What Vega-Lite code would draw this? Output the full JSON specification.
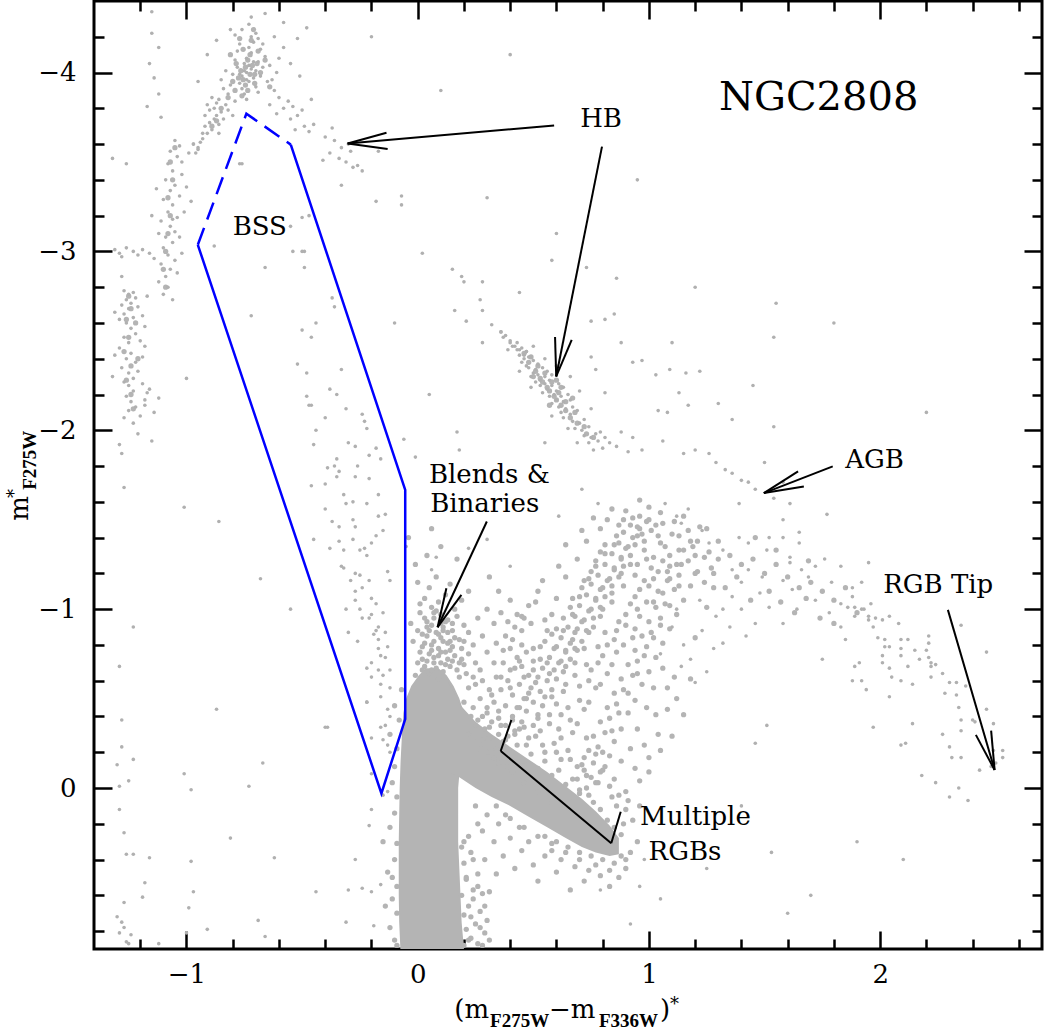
{
"$schema":"https://vega.github.io/schema/vega-lite/v6.json",
"width":948,"height":948,
"autosize":{"type":"none"},
"padding":{"left":94,"top":1,"right":2,"bottom":85},
"background":"white",
"config":{"view":{"stroke":"black","strokeWidth":3},"axis":{"grid":false,"domain":false,"title":null,"tickColor":"black","tickWidth":2.5,"labelColor":"black","labelFont":"DejaVu Serif","labelFontSize":26,"labelFlush":false,"labelOverlap":false}},
"resolve":{"axis":{"x":"independent","y":"independent"}},
"datasets":{
"ms":[{"y":0.9,"xa":-0.075,"xb":0.2},{"y":0.75,"xa":-0.08,"xb":0.19},{"y":0.6,"xa":-0.082,"xb":0.185},{"y":0.45,"xa":-0.082,"xb":0.18},{"y":0.3,"xa":-0.082,"xb":0.175},{"y":0.15,"xa":-0.08,"xb":0.175},{"y":0.0,"xa":-0.078,"xb":0.175},{"y":-0.15,"xa":-0.074,"xb":0.185},{"y":-0.3,"xa":-0.068,"xb":0.2},{"y":-0.42,"xa":-0.062,"xb":0.2},{"y":-0.5,"xa":-0.05,"xb":0.18},{"y":-0.57,"xa":-0.028,"xb":0.155},{"y":-0.63,"xa":0.005,"xb":0.125},{"y":-0.67,"xa":0.035,"xb":0.09}],
"sgb":[{"x":0.12,"ya":-0.62,"yb":-0.1},{"x":0.18,"ya":-0.47,"yb":-0.06},{"x":0.25,"ya":-0.37,"yb":0.0},{"x":0.32,"ya":-0.3,"yb":0.05},{"x":0.4,"ya":-0.23,"yb":0.1},{"x":0.48,"ya":-0.16,"yb":0.16},{"x":0.56,"ya":-0.09,"yb":0.22},{"x":0.64,"ya":-0.01,"yb":0.28},{"x":0.71,"ya":0.06,"yb":0.33},{"x":0.77,"ya":0.13,"yb":0.36},{"x":0.83,"ya":0.21,"yb":0.38},{"x":0.87,"ya":0.28,"yb":0.37}],
"cloud":[
{"x":0.02,"y":-0.66},{"x":0.05,"y":-0.64},{"x":0.08,"y":-0.67},{"x":0.11,"y":-0.65},{"x":0.14,"y":-0.68},{"x":0.17,"y":-0.66},{"x":0.2,"y":-0.69},{"x":0.0,"y":-0.7},{"x":0.04,"y":-0.71},{"x":0.07,"y":-0.73},
{"x":0.1,"y":-0.7},{"x":0.13,"y":-0.72},{"x":0.16,"y":-0.74},{"x":0.19,"y":-0.72},{"x":0.22,"y":-0.75},{"x":0.01,"y":-0.76},{"x":0.06,"y":-0.77},{"x":0.09,"y":-0.78},{"x":0.12,"y":-0.76},{"x":0.15,"y":-0.79},
{"x":0.03,"y":-0.81},{"x":0.07,"y":-0.82},{"x":0.1,"y":-0.84},{"x":0.13,"y":-0.81},{"x":0.18,"y":-0.83},{"x":0.24,"y":-0.8},{"x":0.02,"y":-0.86},{"x":0.05,"y":-0.88},{"x":0.08,"y":-0.87},{"x":0.11,"y":-0.9},
{"x":0.15,"y":-0.88},{"x":0.2,"y":-0.91},{"x":0.04,"y":-0.93},{"x":0.07,"y":-0.95},{"x":0.1,"y":-0.97},{"x":0.13,"y":-0.94},{"x":0.01,"y":-0.98},{"x":0.06,"y":-1.01},{"x":0.09,"y":-1.04},{"x":0.16,"y":-1.0},
{"x":0.03,"y":-1.06},{"x":0.12,"y":-1.08},{"x":0.05,"y":-1.12},{"x":0.19,"y":-1.05},{"x":0.26,"y":-0.95},{"x":0.28,"y":-0.85},{"x":0.25,"y":-0.7},{"x":0.3,"y":-0.76},{"x":-0.02,"y":-0.82},{"x":-0.03,"y":-0.92},
{"x":0.0,"y":-1.15},{"x":0.08,"y":-1.18},{"x":0.14,"y":-1.14},{"x":0.22,"y":-1.1},{"x":-0.01,"y":-1.25},{"x":0.04,"y":-1.3},{"x":0.1,"y":-1.35},{"x":0.17,"y":-1.28},{"x":-0.04,"y":-1.4},{"x":0.06,"y":-1.45},
{"x":0.18,"y":-0.62},{"x":0.21,"y":-0.64},{"x":0.24,"y":-0.62},{"x":-0.01,"y":-0.63},{"x":0.09,"y":-0.61},{"x":0.27,"y":-0.66},{"x":0.12,"y":-0.93},{"x":0.17,"y":-0.96},{"x":0.22,"y":-0.87},{"x":0.01,"y":-1.03},
{"x":0.3,"y":-1.0},{"x":0.33,"y":-0.92},{"x":0.36,"y":-0.98},{"x":0.28,"y":-0.6},{"x":0.31,"y":-0.55},{"x":0.34,"y":-0.62},{"x":0.37,"y":-0.7},{"x":0.4,"y":-0.78},{"x":0.27,"y":-0.5},{"x":0.24,"y":-0.45},
{"x":0.3,"y":-0.42},{"x":0.33,"y":-0.48},{"x":0.36,"y":-0.55},{"x":0.39,"y":-0.6},{"x":0.42,"y":-0.67},{"x":0.26,"y":-0.38},{"x":0.29,"y":-0.33},{"x":0.32,"y":-0.37},{"x":0.35,"y":-0.43},{"x":0.38,"y":-0.46},
{"x":0.41,"y":-0.52},{"x":0.44,"y":-0.58},{"x":0.35,"y":-0.3},{"x":0.38,"y":-0.35},{"x":0.41,"y":-0.4},{"x":0.44,"y":-0.45},{"x":0.47,"y":-0.5},{"x":0.22,"y":-0.56},{"x":0.2,"y":-0.48},{"x":0.25,"y":-0.58},
{"x":0.38,"y":-0.85},{"x":0.42,"y":-0.9},{"x":0.45,"y":-0.8},{"x":0.35,"y":-1.1},{"x":0.4,"y":-1.05},{"x":0.31,"y":-1.18},{"x":0.46,"y":-0.95},{"x":0.43,"y":-0.73},{"x":0.23,"y":-0.4},{"x":0.28,"y":-0.27},
{"x":0.42,"y":-0.3},{"x":0.38,"y":-0.27},{"x":0.46,"y":-0.34},{"x":0.45,"y":-0.37},{"x":0.41,"y":-0.38},{"x":0.5,"y":-0.35},{"x":0.47,"y":-0.43},{"x":0.43,"y":-0.45},{"x":0.52,"y":-0.41},{"x":0.54,"y":-0.46},
{"x":0.5,"y":-0.48},{"x":0.46,"y":-0.5},{"x":0.55,"y":-0.51},{"x":0.48,"y":-0.53},{"x":0.53,"y":-0.54},{"x":0.49,"y":-0.56},{"x":0.58,"y":-0.55},{"x":0.51,"y":-0.59},{"x":0.56,"y":-0.6},{"x":0.52,"y":-0.62},
{"x":0.6,"y":-0.61},{"x":0.57,"y":-0.64},{"x":0.59,"y":-0.66},{"x":0.54,"y":-0.67},{"x":0.63,"y":-0.65},{"x":0.61,"y":-0.7},{"x":0.62,"y":-0.71},{"x":0.57,"y":-0.73},{"x":0.66,"y":-0.72},{"x":0.64,"y":-0.76},
{"x":0.64,"y":-0.77},{"x":0.6,"y":-0.79},{"x":0.68,"y":-0.78},{"x":0.66,"y":-0.81},{"x":0.67,"y":-0.83},{"x":0.62,"y":-0.84},{"x":0.71,"y":-0.82},{"x":0.68,"y":-0.87},{"x":0.69,"y":-0.89},{"x":0.65,"y":-0.9},
{"x":0.73,"y":-0.88},{"x":0.71,"y":-0.93},{"x":0.72,"y":-0.94},{"x":0.68,"y":-0.96},{"x":0.76,"y":-0.95},{"x":0.74,"y":-0.99},{"x":0.75,"y":-1.0},{"x":0.7,"y":-1.02},{"x":0.79,"y":-1.01},{"x":0.77,"y":-1.05},
{"x":0.77,"y":-1.06},{"x":0.73,"y":-1.08},{"x":0.81,"y":-1.07},{"x":0.79,"y":-1.11},{"x":0.8,"y":-1.12},{"x":0.75,"y":-1.14},{"x":0.84,"y":-1.13},{"x":0.82,"y":-1.16},{"x":0.83,"y":-1.17},{"x":0.78,"y":-1.19},
{"x":0.87,"y":-1.18},{"x":0.85,"y":-1.22},{"x":0.85,"y":-1.23},{"x":0.81,"y":-1.25},{"x":0.89,"y":-1.24},{"x":0.88,"y":-1.28},{"x":0.88,"y":-1.29},{"x":0.84,"y":-1.31},{"x":0.92,"y":-1.3},{"x":0.9,"y":-1.34},
{"x":0.91,"y":-1.35},{"x":0.87,"y":-1.37},{"x":0.94,"y":-1.36},{"x":0.93,"y":-1.4},{"x":0.95,"y":-1.41},{"x":0.89,"y":-1.43},{"x":0.97,"y":-1.42},{"x":0.95,"y":-1.46},{"x":0.96,"y":-1.45},{"x":0.99,"y":-1.49},
{"x":0.93,"y":-1.51},{"x":1.01,"y":-1.44},{"x":0.98,"y":-1.38},{"x":1.03,"y":-1.47},
{"x":0.66,"y":0.05},{"x":0.7,"y":0.01},{"x":0.74,"y":0.04},{"x":0.69,"y":-0.05},{"x":0.73,"y":-0.07},{"x":0.77,"y":-0.03},{"x":0.71,"y":-0.13},{"x":0.76,"y":-0.14},{"x":0.79,"y":-0.09},{"x":0.74,"y":-0.21},
{"x":0.78,"y":-0.23},{"x":0.83,"y":-0.18},{"x":0.76,"y":-0.29},{"x":0.81,"y":-0.31},{"x":0.85,"y":-0.26},{"x":0.79,"y":-0.37},{"x":0.83,"y":-0.39},{"x":0.88,"y":-0.33},{"x":0.82,"y":-0.45},{"x":0.86,"y":-0.47},
{"x":0.91,"y":-0.42},{"x":0.85,"y":-0.53},{"x":0.89,"y":-0.55},{"x":0.94,"y":-0.49},{"x":0.88,"y":-0.61},{"x":0.93,"y":-0.63},{"x":0.97,"y":-0.58},{"x":0.91,"y":-0.69},{"x":0.95,"y":-0.71},{"x":1.0,"y":-0.65},
{"x":0.94,"y":-0.77},{"x":0.99,"y":-0.79},{"x":1.03,"y":-0.73},{"x":0.97,"y":-0.85},{"x":1.01,"y":-0.87},{"x":1.06,"y":-0.81},{"x":1.0,"y":-0.93},{"x":1.05,"y":-0.95},{"x":1.09,"y":-0.89},{"x":1.03,"y":-1.01},
{"x":1.07,"y":-1.03},{"x":1.12,"y":-0.97},{"x":1.06,"y":-1.09},{"x":1.11,"y":-1.11},{"x":1.15,"y":-1.05},{"x":1.09,"y":-1.17},{"x":1.13,"y":-1.19},{"x":1.18,"y":-1.13},{"x":1.12,"y":-1.25},{"x":1.17,"y":-1.27},
{"x":1.21,"y":-1.21},{"x":1.15,"y":-1.33},{"x":1.19,"y":-1.35},{"x":1.24,"y":-1.29},{"x":0.86,"y":0.1},{"x":0.9,"y":0.02},{"x":0.94,"y":-0.11},{"x":0.98,"y":-0.24},{"x":1.03,"y":-0.41},{"x":1.08,"y":-0.56},
{"x":0.5,"y":-0.71},{"x":0.55,"y":-0.82},{"x":0.6,"y":-0.89},{"x":0.66,"y":-1.01},{"x":0.71,"y":-1.12},{"x":0.75,"y":-1.21},{"x":0.79,"y":-1.32},{"x":0.86,"y":-1.41},{"x":0.63,"y":-0.54},{"x":0.68,"y":-0.63},
{"x":0.73,"y":-0.69},{"x":0.78,"y":-0.79},{"x":0.81,"y":-0.87},{"x":0.87,"y":-0.93},{"x":0.92,"y":-1.03},{"x":0.96,"y":-1.11},{"x":1.02,"y":-1.17},{"x":1.06,"y":-1.27},{"x":1.13,"y":-1.33},{"x":0.57,"y":-0.36},
{"x":0.62,"y":-0.41},{"x":0.67,"y":-0.31},{"x":0.72,"y":-0.44},{"x":0.77,"y":-0.56},{"x":0.82,"y":-0.64},{"x":0.86,"y":-0.76},{"x":0.93,"y":-0.84},{"x":0.96,"y":-0.96},{"x":1.02,"y":-1.04},{"x":1.08,"y":-1.16},
{"x":0.45,"y":-0.96},{"x":0.51,"y":-1.04},{"x":0.54,"y":-1.16},{"x":0.61,"y":-1.24},{"x":0.64,"y":-1.36},{"x":0.71,"y":-1.44},{"x":0.76,"y":-1.51},{"x":0.84,"y":-1.56},{"x":0.96,"y":-1.61},{"x":1.05,"y":-1.54},
{"x":1.12,"y":-0.5},{"x":1.15,"y":-0.41},{"x":1.1,"y":-0.29},{"x":1.05,"y":-0.21},{"x":1.0,"y":-0.09},{"x":1.18,"y":-0.61},{"x":1.2,"y":-0.84},{"x":1.25,"y":-1.01},{"x":1.28,"y":-1.12},{"x":0.4,"y":-0.56},
{"x":0.52,"y":-0.39},{"x":0.58,"y":-0.51},{"x":0.64,"y":-0.68},{"x":0.69,"y":-0.77},{"x":0.74,"y":-0.87},{"x":0.79,"y":-0.96},{"x":0.84,"y":-1.04},{"x":0.89,"y":-1.13},{"x":0.94,"y":-1.19},{"x":0.99,"y":-1.28},
{"x":0.22,"y":-0.3},{"x":0.25,"y":-0.35},{"x":0.28,"y":-0.4},{"x":0.31,"y":-0.28},{"x":0.34,"y":-0.22},{"x":0.37,"y":-0.26},{"x":0.4,"y":-0.2},{"x":0.43,"y":-0.24},{"x":0.46,"y":-0.15},{"x":0.49,"y":-0.19},
{"x":0.52,"y":-0.11},{"x":0.55,"y":-0.15},{"x":0.58,"y":-0.07},{"x":0.61,"y":-0.1},{"x":0.64,"y":-0.02},{"x":0.67,"y":-0.05},{"x":0.7,"y":0.03},{"x":0.73,"y":0.0},{"x":0.76,"y":0.08},{"x":0.79,"y":0.12},
{"x":0.82,"y":0.18},{"x":0.85,"y":0.22},{"x":0.88,"y":0.26},{"x":0.3,"y":-0.45},{"x":0.36,"y":-0.35},{"x":0.42,"y":-0.32},{"x":0.48,"y":-0.28},{"x":0.54,"y":-0.24},{"x":0.6,"y":-0.2},{"x":0.66,"y":-0.16},
{"x":0.72,"y":-0.1},{"x":0.78,"y":-0.03},{"x":0.84,"y":0.05},{"x":0.9,"y":0.12},{"x":0.27,"y":-0.22},{"x":0.33,"y":-0.17},{"x":0.39,"y":-0.12},{"x":0.45,"y":-0.07},{"x":0.51,"y":-0.02},{"x":0.57,"y":0.03},
{"x":-0.1,"y":0.85},{"x":-0.12,"y":0.78},{"x":-0.09,"y":0.7},{"x":-0.11,"y":0.62},{"x":-0.09,"y":0.55},{"x":-0.13,"y":0.47},{"x":-0.1,"y":0.4},{"x":-0.09,"y":0.31},{"x":-0.12,"y":0.22},{"x":-0.1,"y":0.14},
{"x":-0.09,"y":0.05},{"x":-0.11,"y":-0.03},{"x":-0.1,"y":-0.12},{"x":-0.09,"y":-0.22},{"x":-0.12,"y":-0.3},{"x":-0.08,"y":-0.38},{"x":-0.1,"y":-0.46},{"x":-0.07,"y":-0.55},{"x":-0.14,"y":0.66},{"x":-0.15,"y":0.3},
{"x":-0.09,"y":0.88},{"x":-0.11,"y":0.5},
{"x":0.2,"y":0.88},{"x":0.23,"y":0.84},{"x":0.26,"y":0.87},{"x":0.21,"y":0.79},{"x":0.25,"y":0.76},{"x":0.29,"y":0.81},{"x":0.2,"y":0.71},{"x":0.22,"y":0.66},{"x":0.27,"y":0.69},{"x":0.31,"y":0.85},
{"x":0.19,"y":0.6},{"x":0.24,"y":0.57},{"x":0.21,"y":0.51},{"x":0.26,"y":0.48},{"x":0.2,"y":0.42},{"x":0.23,"y":0.36},{"x":0.28,"y":0.59},{"x":0.3,"y":0.74},{"x":0.19,"y":0.33},{"x":0.22,"y":0.27},
{"x":0.25,"y":0.1},{"x":0.3,"y":0.15},{"x":0.35,"y":0.2},{"x":0.28,"y":0.24},{"x":0.33,"y":0.3},{"x":0.4,"y":0.28},{"x":0.37,"y":0.38},{"x":0.45,"y":0.35},{"x":0.29,"y":0.4},{"x":0.42,"y":0.45},
{"x":0.5,"y":0.43},{"x":0.26,"y":0.2},{"x":0.48,"y":0.3},{"x":0.38,"y":0.15},{"x":0.44,"y":0.22},{"x":0.55,"y":0.38},{"x":0.34,"y":0.48},{"x":0.52,"y":0.52},{"x":0.31,"y":0.58},{"x":0.6,"y":0.47},
{"x":0.55,"y":0.27},{"x":0.6,"y":0.3},{"x":0.65,"y":0.33},{"x":0.7,"y":0.36},{"x":0.75,"y":0.38},{"x":0.8,"y":0.4},{"x":0.85,"y":0.42},{"x":0.62,"y":0.4},{"x":0.68,"y":0.44},{"x":0.74,"y":0.46},
{"x":0.79,"y":0.49},{"x":0.88,"y":0.38},{"x":0.92,"y":0.36},{"x":0.9,"y":0.45},{"x":0.58,"y":0.35},{"x":0.72,"y":0.52},{"x":0.83,"y":0.55},{"x":0.66,"y":0.57},{"x":0.95,"y":0.3},{"x":0.87,"y":0.5},
{"x":-0.745,"y":-4.03},{"x":-0.725,"y":-3.99},{"x":-0.755,"y":-3.96},{"x":-0.715,"y":-4.04},{"x":-0.765,"y":-4.01},{"x":-0.735,"y":-4.07},{"x":-0.705,"y":-3.99},{"x":-0.775,"y":-3.97},{"x":-0.745,"y":-3.93},{"x":-0.725,"y":-4.1},
{"x":-0.695,"y":-4.05},{"x":-0.785,"y":-4.05},{"x":-0.755,"y":-4.13},{"x":-0.705,"y":-3.94},{"x":-0.735,"y":-3.9},{"x":-0.79,"y":-3.9},{"x":-0.69,"y":-4.12},{"x":-0.76,"y":-3.87},{"x":-0.72,"y":-4.18},{"x":-0.8,"y":-3.95},
{"x":-0.68,"y":-4.0},{"x":-0.82,"y":-3.86},{"x":-0.85,"y":-3.8},{"x":-0.87,"y":-3.73},{"x":-0.89,"y":-3.7},{"x":-0.77,"y":-4.19},{"x":-0.71,"y":-4.24},{"x":-0.66,"y":-4.07},{"x":-0.64,"y":-3.92},{"x":-0.81,"y":-4.1},
{"x":0.46,"y":-2.43},{"x":0.49,"y":-2.41},{"x":0.48,"y":-2.38},{"x":0.52,"y":-2.36},{"x":0.51,"y":-2.33},{"x":0.55,"y":-2.32},{"x":0.53,"y":-2.29},{"x":0.54,"y":-2.27},{"x":0.58,"y":-2.27},{"x":0.56,"y":-2.24},
{"x":0.57,"y":-2.22},{"x":0.61,"y":-2.21},{"x":0.59,"y":-2.19},{"x":0.6,"y":-2.17},{"x":0.64,"y":-2.16},{"x":0.62,"y":-2.14},{"x":0.64,"y":-2.11},{"x":0.68,"y":-2.1},{"x":0.66,"y":-2.07},{"x":0.69,"y":-2.04},
{"x":0.72,"y":-2.02},{"x":0.73,"y":-1.98},{"x":0.76,"y":-1.96},{"x":0.5,"y":-2.3},{"x":0.6,"y":-2.28},{"x":0.57,"y":-2.14},{"x":0.67,"y":-2.18},{"x":0.62,"y":-2.24},
{"x":-1.25,"y":-2.75},{"x":-1.24,"y":-2.68},{"x":-1.26,"y":-2.62},{"x":-1.25,"y":-2.52},{"x":-1.27,"y":-2.44},{"x":-1.24,"y":-2.36},{"x":-1.26,"y":-2.28},{"x":-1.24,"y":-2.2},{"x":-1.23,"y":-2.12},{"x":-1.07,"y":-3.5},
{"x":-1.06,"y":-3.4},{"x":-1.08,"y":-3.3},{"x":-1.07,"y":-3.2},{"x":-1.08,"y":-3.1},{"x":-1.09,"y":-3.0},{"x":-1.1,"y":-2.9},{"x":-1.09,"y":-2.8},{"x":-1.05,"y":-3.58},{"x":-1.21,"y":-2.4},{"x":-1.22,"y":-2.6},
{"x":0.31,"y":-0.34},{"x":0.35,"y":-0.39},{"x":0.39,"y":-0.29},{"x":0.44,"y":-0.33},{"x":0.47,"y":-0.24},{"x":0.51,"y":-0.29},{"x":0.55,"y":-0.2},{"x":0.59,"y":-0.25},{"x":0.62,"y":-0.16},{"x":0.65,"y":-0.21},
{"x":0.69,"y":-0.12},{"x":0.72,"y":-0.17},{"x":0.75,"y":-0.06},{"x":0.8,"y":-0.1},{"x":0.83,"y":-0.01},{"x":0.87,"y":0.04},{"x":0.91,"y":0.07},{"x":0.93,"y":0.18},{"x":0.89,"y":0.2},{"x":0.96,"y":0.1},
{"x":0.53,"y":-0.32},{"x":0.57,"y":-0.41},{"x":0.61,"y":-0.33},{"x":0.65,"y":-0.45},{"x":0.69,"y":-0.36},{"x":0.73,"y":-0.28},{"x":0.77,"y":-0.19},{"x":0.81,"y":-0.12},{"x":0.85,"y":-0.05},{"x":0.88,"y":-0.15},
{"x":0.92,"y":-0.22},{"x":0.95,"y":-0.33},{"x":0.99,"y":-0.45},{"x":1.02,"y":-0.56},{"x":1.06,"y":-0.67},{"x":0.96,"y":-0.04},{"x":1.0,"y":-0.17},{"x":1.04,"y":-0.3},{"x":1.08,"y":-0.44},{"x":1.11,"y":-0.62},
{"x":0.48,"y":-0.63},{"x":0.53,"y":-0.72},{"x":0.58,"y":-0.86},{"x":0.63,"y":-0.95},{"x":0.67,"y":-1.06},{"x":0.72,"y":-1.16},{"x":0.77,"y":-1.27},{"x":0.81,"y":-1.36},{"x":0.87,"y":-1.47},{"x":0.45,"y":-0.68},
{"x":0.5,"y":-0.78},{"x":0.55,"y":-0.94},{"x":0.6,"y":-1.06},{"x":0.64,"y":-1.18},{"x":0.69,"y":-1.28},{"x":0.73,"y":-1.38},{"x":0.79,"y":-1.45},{"x":0.82,"y":-1.5},
{"x":0.7,"y":-0.57},{"x":0.75,"y":-0.66},{"x":0.8,"y":-0.74},{"x":0.85,"y":-0.83},{"x":0.9,"y":-0.91},{"x":0.95,"y":-1.0},{"x":1.0,"y":-1.13},{"x":1.04,"y":-1.21},{"x":1.09,"y":-1.3},{"x":1.13,"y":-1.41},
{"x":1.17,"y":-1.44},{"x":1.21,"y":-1.38},{"x":0.74,"y":-0.48},{"x":0.79,"y":-0.58},{"x":0.84,"y":-0.69},{"x":0.89,"y":-0.8},{"x":0.94,"y":-0.89},{"x":0.99,"y":-1.04},{"x":1.04,"y":-1.1},{"x":1.08,"y":-1.21},
{"x":0.92,"y":-1.47},{"x":0.96,"y":-1.52},{"x":1.0,"y":-1.5},{"x":1.04,"y":-1.41},{"x":1.07,"y":-1.35},{"x":0.98,"y":-1.33},{"x":1.02,"y":-1.29},{"x":0.95,"y":-1.25},{"x":1.06,"y":-1.48},{"x":1.1,"y":-1.42},
{"x":0.9,"y":-1.55},{"x":1.0,"y":-1.57},
{"x":1.25,"y":-1.45},{"x":1.3,"y":-1.38},{"x":1.35,"y":-1.3},{"x":1.4,"y":-1.25},{"x":1.45,"y":-1.28},{"x":1.5,"y":-1.2},{"x":1.55,"y":-1.25},{"x":1.6,"y":-1.18},{"x":1.65,"y":-1.12},{"x":1.7,"y":-1.15},
{"x":1.75,"y":-1.1},{"x":1.8,"y":-1.05},{"x":1.85,"y":-1.12},{"x":1.9,"y":-0.98},{"x":1.28,"y":-1.2},{"x":1.33,"y":-1.12},{"x":1.38,"y":-1.18},{"x":1.44,"y":-1.05},{"x":1.52,"y":-1.1},{"x":1.57,"y":-1.04},
{"x":1.63,"y":-0.98},{"x":1.68,"y":-1.06},{"x":1.74,"y":-0.95},{"x":1.8,"y":-0.92},{"x":1.3,"y":-1.28},{"x":1.46,"y":-1.4},{"x":1.55,"y":-1.33},{"x":1.69,"y":-1.27},{"x":1.24,"y":-1.15},{"x":1.2,"y":-1.3},
{"x":0.03,"y":-0.68},{"x":0.07,"y":-0.7},{"x":0.12,"y":-0.69},{"x":0.15,"y":-0.71},{"x":0.05,"y":-0.75},{"x":0.09,"y":-0.74},{"x":0.14,"y":-0.77},{"x":0.02,"y":-0.79},{"x":0.06,"y":-0.8},{"x":0.11,"y":-0.82},
{"x":0.04,"y":-0.85},{"x":0.09,"y":-0.86},{"x":0.13,"y":-0.87},{"x":0.06,"y":-0.91},{"x":0.1,"y":-0.92},{"x":0.03,"y":-0.95},{"x":0.08,"y":-0.99},{"x":0.16,"y":-0.84},{"x":0.19,"y":-0.78},{"x":0.0,"y":-0.88},
{"x":0.32,"y":-0.52},{"x":0.36,"y":-0.62},{"x":0.4,"y":-0.66},{"x":0.44,"y":-0.71},{"x":0.47,"y":-0.76},{"x":0.33,"y":-0.7},{"x":0.37,"y":-0.77},{"x":0.41,"y":-0.83},{"x":0.45,"y":-0.88},{"x":0.49,"y":-0.92},
{"x":0.34,"y":-0.81},{"x":0.39,"y":-0.93},{"x":0.43,"y":-0.97},{"x":0.48,"y":-1.02},{"x":0.52,"y":-1.1},{"x":0.46,"y":-0.62},{"x":0.5,"y":-0.66},{"x":0.53,"y":-0.79},{"x":0.56,"y":-0.88},{"x":0.58,"y":-0.97},
{"x":0.6,"y":-0.47},{"x":0.64,"y":-0.58},{"x":0.68,"y":-0.7},{"x":0.72,"y":-0.78},{"x":0.76,"y":-0.9},{"x":0.8,"y":-1.0},{"x":0.84,"y":-1.09},{"x":0.88,"y":-1.2},{"x":0.92,"y":-1.25},{"x":0.62,"y":-0.28},
{"x":0.66,"y":-0.38},{"x":0.7,"y":-0.49},{"x":0.74,"y":-0.6},{"x":0.78,"y":-0.7},{"x":0.82,"y":-0.8},{"x":0.86,"y":-0.88},{"x":0.9,"y":-0.97},{"x":0.94,"y":-1.07},{"x":0.98,"y":-1.16},{"x":1.01,"y":-1.23},
{"x":0.56,"y":-0.7},{"x":0.59,"y":-0.78},{"x":0.63,"y":-0.88},{"x":0.67,"y":-0.97},{"x":0.7,"y":-1.07},{"x":0.74,"y":-1.17},{"x":0.77,"y":-1.24},{"x":0.81,"y":-1.31},{"x":0.85,"y":-1.36},{"x":0.89,"y":-1.5},
{"x":0.8,"y":-0.2},{"x":0.84,"y":-0.32},{"x":0.87,"y":-0.42},{"x":0.91,"y":-0.53},{"x":0.95,"y":-0.64},{"x":0.98,"y":-0.74},{"x":1.02,"y":-0.84},{"x":1.05,"y":-0.91},{"x":1.09,"y":-1.02},{"x":1.13,"y":-1.13},
{"x":1.05,"y":-1.37},{"x":1.09,"y":-1.24},{"x":1.14,"y":-1.25},{"x":1.18,"y":-1.38},{"x":1.22,"y":-1.46},{"x":1.26,"y":-1.32},{"x":1.11,"y":-1.49},{"x":1.15,"y":-1.52},{"x":1.2,"y":-1.2},{"x":1.27,"y":-1.23},
{"x":0.26,"y":-0.27},{"x":0.3,"y":-0.2},{"x":0.35,"y":-0.14},{"x":0.41,"y":-0.09},{"x":0.46,"y":-0.03},{"x":0.52,"y":0.02},{"x":0.58,"y":0.08},{"x":0.63,"y":0.12},{"x":0.68,"y":0.16},{"x":0.74,"y":0.2},
{"x":0.34,"y":0.1},{"x":0.4,"y":0.17},{"x":0.46,"y":0.22},{"x":0.52,"y":0.27},{"x":0.58,"y":0.31},{"x":0.64,"y":0.36},{"x":0.7,"y":0.4},{"x":0.77,"y":0.43},{"x":0.83,"y":0.46},{"x":0.9,"y":0.4},
{"x":0.21,"y":0.5},{"x":0.24,"y":0.62},{"x":0.27,"y":0.78},{"x":0.23,"y":0.72},{"x":0.26,"y":0.55},{"x":0.29,"y":0.66},{"x":0.2,"y":0.3},{"x":0.24,"y":0.4},{"x":0.22,"y":0.85},{"x":0.28,"y":0.88},
{"x":0.02,"y":-0.72},{"x":0.06,"y":-0.66},{"x":0.1,"y":-0.76},{"x":0.14,"y":-0.82},{"x":0.18,"y":-0.7},{"x":0.04,"y":-0.9},{"x":0.11,"y":-0.88},{"x":0.07,"y":-0.98},{"x":0.15,"y":-0.92},{"x":0.2,"y":-0.82}
],
"sparse":[
{"x":-0.74,"y":-4.0},{"x":-0.72,"y":-4.02},{"x":-0.76,"y":-3.98},{"x":-0.73,"y":-3.95},{"x":-0.75,"y":-4.05},{"x":-0.7,"y":-4.01},{"x":-0.78,"y":-4.03},{"x":-0.71,"y":-3.97},{"x":-0.77,"y":-3.94},{"x":-0.74,"y":-4.08},
{"x":-0.69,"y":-4.06},{"x":-0.8,"y":-3.99},{"x":-0.72,"y":-4.11},{"x":-0.76,"y":-3.91},{"x":-0.68,"y":-3.98},{"x":-0.79,"y":-4.07},{"x":-0.73,"y":-4.14},{"x":-0.81,"y":-3.93},{"x":-0.67,"y":-4.03},{"x":-0.75,"y":-3.88},
{"x":-0.7,"y":-3.92},{"x":-0.78,"y":-4.12},{"x":-0.66,"y":-4.09},{"x":-0.83,"y":-4.01},{"x":-0.71,"y":-4.17},{"x":-0.74,"y":-3.85},{"x":-0.82,"y":-3.88},{"x":-0.69,"y":-3.89},{"x":-0.77,"y":-4.16},{"x":-0.65,"y":-3.95},
{"x":-0.85,"y":-3.96},{"x":-0.72,"y":-4.2},{"x":-0.79,"y":-3.84},{"x":-0.68,"y":-4.13},{"x":-0.84,"y":-3.91},{"x":-0.73,"y":-4.04},{"x":-0.75,"y":-4.01},{"x":-0.71,"y":-4.06},{"x":-0.77,"y":-3.99},{"x":-0.74,"y":-3.96},
{"x":-0.7,"y":-4.22},{"x":-0.76,"y":-4.24},{"x":-0.69,"y":-4.19},{"x":-0.73,"y":-4.27},{"x":-0.67,"y":-4.16},{"x":-0.79,"y":-4.21},{"x":-0.64,"y":-4.04},{"x":-0.86,"y":-3.85},{"x":-0.88,"y":-3.8},{"x":-0.83,"y":-3.82},
{"x":-0.87,"y":-3.76},{"x":-0.9,"y":-3.72},{"x":-0.85,"y":-3.78},{"x":-0.89,"y":-3.68},{"x":-0.92,"y":-3.7},{"x":-0.86,"y":-3.71},{"x":-0.88,"y":-3.74},{"x":-0.91,"y":-3.66},{"x":-0.84,"y":-3.74},{"x":-0.9,"y":-3.79},
{"x":-0.93,"y":-3.63},{"x":-0.87,"y":-3.83},{"x":-0.82,"y":-3.79},{"x":-0.89,"y":-3.86},{"x":-0.94,"y":-3.61},{"x":-0.8,"y":-3.76},{"x":-0.92,"y":-3.76},{"x":-0.86,"y":-3.66},{"x":-0.95,"y":-3.58},{"x":-0.91,"y":-3.82},
{"x":-0.62,"y":-3.9},{"x":-0.6,"y":-3.86},{"x":-0.64,"y":-3.82},{"x":-0.58,"y":-3.8},{"x":-0.61,"y":-3.77},{"x":-0.55,"y":-3.74},{"x":-0.52,"y":-3.76},{"x":-0.49,"y":-3.7},{"x":-0.47,"y":-3.67},{"x":-0.53,"y":-3.68},
{"x":-0.56,"y":-3.84},{"x":-0.5,"y":-3.79},{"x":-0.63,"y":-3.96},{"x":-0.6,"y":-4.08},{"x":-0.58,"y":-4.14},
{"x":-0.81,"y":-4.24},{"x":-0.62,"y":-4.2},{"x":-0.91,"y":-4.1},{"x":-0.58,"y":-4.28},{"x":-0.72,"y":-4.31},{"x":-0.87,"y":-4.18},{"x":-0.55,"y":-4.05},{"x":-0.95,"y":-3.95},{"x":-0.66,"y":-4.33},{"x":-0.61,"y":-4.0},
{"x":-1.15,"y":-4.22},{"x":-1.12,"y":-4.14},{"x":-1.14,"y":-3.97},{"x":-1.16,"y":-4.05},{"x":-1.12,"y":-3.88},{"x":-1.15,"y":-4.34},{"x":-1.17,"y":-3.81},{"x":-1.11,"y":-3.75},{"x":-1.32,"y":-3.52},{"x":-1.26,"y":-3.49},
{"x":-0.36,"y":-3.62},{"x":-0.33,"y":-3.58},{"x":-0.3,"y":-3.6},{"x":-0.38,"y":-3.55},{"x":-0.34,"y":-3.52},{"x":-0.31,"y":-3.5},{"x":-0.28,"y":-3.47},{"x":-0.26,"y":-3.48},{"x":-0.4,"y":-3.64},{"x":-0.29,"y":-3.56},
{"x":-0.24,"y":-3.45},{"x":-0.54,"y":-3.81},{"x":-0.45,"y":-3.71},
{"x":-1.05,"y":-3.62},{"x":-1.03,"y":-3.59},{"x":-1.07,"y":-3.56},{"x":-1.04,"y":-3.53},{"x":-1.08,"y":-3.49},{"x":-1.06,"y":-3.45},{"x":-1.02,"y":-3.43},{"x":-1.09,"y":-3.4},{"x":-1.05,"y":-3.37},{"x":-1.07,"y":-3.34},
{"x":-1.03,"y":-3.31},{"x":-1.1,"y":-3.29},{"x":-1.06,"y":-3.26},{"x":-1.08,"y":-3.22},{"x":-1.04,"y":-3.19},{"x":-1.11,"y":-3.17},{"x":-1.07,"y":-3.14},{"x":-1.05,"y":-3.11},{"x":-1.09,"y":-3.08},{"x":-1.06,"y":-3.05},
{"x":-1.1,"y":-3.02},{"x":-1.08,"y":-2.98},{"x":-1.05,"y":-2.95},{"x":-1.11,"y":-2.93},{"x":-1.07,"y":-2.9},{"x":-1.09,"y":-2.86},{"x":-1.12,"y":-2.83},{"x":-1.08,"y":-2.8},{"x":-1.1,"y":-2.76},{"x":-1.06,"y":-2.73},
{"x":-1.02,"y":-3.5},{"x":-1.0,"y":-3.36},{"x":-1.01,"y":-3.22},{"x":-1.03,"y":-3.08},{"x":-1.13,"y":-3.35},{"x":-1.12,"y":-3.1},{"x":-1.14,"y":-2.96},{"x":-0.99,"y":-3.55},{"x":-0.97,"y":-3.6},{"x":-0.95,"y":-3.57},
{"x":-1.04,"y":-2.88},{"x":-1.02,"y":-2.99},{"x":-1.15,"y":-3.2},{"x":-0.98,"y":-3.28},{"x":-1.06,"y":-3.18},
{"x":-1.31,"y":-3.01},{"x":-1.29,"y":-2.99},{"x":-1.26,"y":-3.02},{"x":-1.23,"y":-3.0},{"x":-1.19,"y":-3.01},{"x":-1.16,"y":-2.99},{"x":-1.28,"y":-2.97},{"x":-1.21,"y":-2.98},{"x":-1.28,"y":-2.86},{"x":-1.17,"y":-2.75},
{"x":-1.27,"y":-2.78},{"x":-1.25,"y":-2.76},{"x":-1.23,"y":-2.77},{"x":-1.26,"y":-2.73},{"x":-1.24,"y":-2.71},{"x":-1.22,"y":-2.74},{"x":-1.28,"y":-2.7},{"x":-1.25,"y":-2.68},{"x":-1.21,"y":-2.69},{"x":-1.27,"y":-2.65},
{"x":-1.23,"y":-2.63},{"x":-1.26,"y":-2.6},{"x":-1.19,"y":-2.64},{"x":-1.29,"y":-2.62},{"x":-1.24,"y":-2.57},{"x":-1.31,"y":-2.66},{"x":-1.18,"y":-2.58},{"x":-1.22,"y":-2.54},
{"x":-1.27,"y":-2.52},{"x":-1.25,"y":-2.49},{"x":-1.29,"y":-2.46},{"x":-1.24,"y":-2.43},{"x":-1.26,"y":-2.4},{"x":-1.22,"y":-2.38},{"x":-1.28,"y":-2.35},{"x":-1.25,"y":-2.32},{"x":-1.23,"y":-2.29},{"x":-1.27,"y":-2.27},
{"x":-1.2,"y":-2.5},{"x":-1.19,"y":-2.41},{"x":-1.31,"y":-2.42},{"x":-1.21,"y":-2.33},{"x":-1.32,"y":-2.3},{"x":-1.18,"y":-2.47},
{"x":-1.25,"y":-2.25},{"x":-1.23,"y":-2.22},{"x":-1.26,"y":-2.19},{"x":-1.24,"y":-2.16},{"x":-1.22,"y":-2.13},{"x":-1.25,"y":-2.11},{"x":-1.19,"y":-2.26},{"x":-1.17,"y":-2.21},{"x":-1.18,"y":-2.17},{"x":-1.16,"y":-2.23},
{"x":-1.2,"y":-2.08},{"x":-1.23,"y":-2.04},{"x":-1.14,"y":-2.1},{"x":-1.21,"y":-1.98},{"x":-1.27,"y":-2.07},{"x":-1.15,"y":-1.94},{"x":-1.29,"y":-1.92},
{"x":-1.28,"y":-1.87},{"x":-1.27,"y":-1.68},{"x":-1.01,"y":-1.57},{"x":-0.86,"y":-1.49},{"x":-0.68,"y":-1.17},{"x":-0.55,"y":-1.0},{"x":-1.23,"y":-0.9},{"x":-1.29,"y":-0.68},{"x":-0.87,"y":-0.44},{"x":-1.28,"y":-0.38},
{"x":-1.28,"y":-0.23},{"x":-1.23,"y":-0.16},{"x":-1.3,"y":-0.13},{"x":-1.01,"y":-0.08},{"x":-0.67,"y":-0.14},{"x":-0.39,"y":-0.34},{"x":-1.25,"y":-0.04},{"x":-1.29,"y":-0.01},{"x":-0.98,"y":0.01},{"x":-0.73,"y":-0.01},
{"x":-1.29,"y":0.12},{"x":-1.27,"y":0.25},{"x":-1.26,"y":0.37},{"x":-1.23,"y":0.37},{"x":-1.16,"y":0.39},{"x":-0.98,"y":0.41},{"x":-0.81,"y":0.28},{"x":-0.62,"y":0.39},{"x":-1.18,"y":0.53},{"x":-0.97,"y":0.58},
{"x":-1.27,"y":0.64},{"x":-1.19,"y":0.61},{"x":-0.99,"y":0.67},{"x":-1.3,"y":0.72},{"x":-1.28,"y":0.75},{"x":-1.27,"y":0.78},{"x":-1.29,"y":0.81},{"x":-1.24,"y":0.82},{"x":-1.26,"y":0.86},{"x":-1.25,"y":0.87},
{"x":-0.91,"y":0.79},{"x":-0.69,"y":0.74},{"x":-0.66,"y":0.83},{"x":-1.0,"y":0.81},{"x":-1.12,"y":0.87},{"x":-0.44,"y":0.58},{"x":-0.3,"y":0.57},{"x":-0.27,"y":0.4},{"x":-0.24,"y":0.56},{"x":-0.2,"y":0.58},
{"x":-0.31,"y":0.75},{"x":-0.19,"y":0.77},{"x":-0.21,"y":0.21},{"x":-0.2,"y":0.12},{"x":-0.16,"y":0.54},{"x":-0.2,"y":-0.28},{"x":-0.22,"y":-0.48},
{"x":-0.48,"y":-2.19},{"x":-0.46,"y":-2.14},{"x":-0.38,"y":-2.23},{"x":-0.35,"y":-2.2},{"x":-0.31,"y":-2.12},{"x":-0.24,"y":-2.09},{"x":-0.4,"y":-2.07},{"x":-0.23,"y":-2.05},{"x":-0.44,"y":-2.0},{"x":-0.22,"y":-2.01},
{"x":-0.45,"y":-1.92},{"x":-0.3,"y":-1.93},{"x":-0.27,"y":-1.91},{"x":-0.18,"y":-1.9},{"x":-0.21,"y":-1.86},{"x":-0.35,"y":-1.84},{"x":-0.36,"y":-1.8},{"x":-0.39,"y":-1.79},{"x":-0.34,"y":-1.77},{"x":-0.26,"y":-1.8},
{"x":-0.35,"y":-1.74},{"x":-0.27,"y":-1.74},{"x":-0.21,"y":-1.73},{"x":-0.16,"y":-1.84},{"x":-0.46,"y":-1.69},{"x":-0.4,"y":-1.7},{"x":-0.32,"y":-1.64},{"x":-0.31,"y":-1.59},{"x":-0.28,"y":-1.6},{"x":-0.22,"y":-1.59},
{"x":-0.17,"y":-1.64},{"x":-0.14,"y":-1.53},{"x":-0.17,"y":-1.52},{"x":-0.4,"y":-1.56},{"x":-0.37,"y":-1.49},{"x":-0.34,"y":-1.46},{"x":-0.28,"y":-1.5},{"x":-0.27,"y":-1.46},{"x":-0.15,"y":-1.44},{"x":-0.45,"y":-1.39},
{"x":-0.34,"y":-1.38},{"x":-0.28,"y":-1.39},{"x":-0.18,"y":-1.41},{"x":-0.38,"y":-1.34},{"x":-0.32,"y":-1.33},{"x":-0.25,"y":-1.33},{"x":-0.23,"y":-1.34},{"x":-0.22,"y":-1.3},{"x":-0.2,"y":-1.37},{"x":-0.33,"y":-1.24},
{"x":-0.32,"y":-1.23},{"x":-0.27,"y":-1.2},{"x":-0.25,"y":-1.19},{"x":-0.21,"y":-1.16},{"x":-0.13,"y":-1.21},{"x":-0.12,"y":-1.16},{"x":-0.29,"y":-1.16},{"x":-0.27,"y":-1.1},{"x":-0.24,"y":-1.12},{"x":-0.27,"y":-1.05},
{"x":-0.25,"y":-1.0},{"x":-0.2,"y":-1.06},{"x":-0.31,"y":-1.0},{"x":-0.24,"y":-0.95},{"x":-0.21,"y":-0.95},{"x":-0.2,"y":-0.97},{"x":-0.18,"y":-1.03},{"x":-0.15,"y":-0.98},{"x":-0.17,"y":-0.9},{"x":-0.18,"y":-0.88},
{"x":-0.14,"y":-0.87},{"x":-0.19,"y":-0.86},{"x":-0.17,"y":-0.83},{"x":-0.3,"y":-0.87},{"x":-0.26,"y":-0.82},{"x":-0.17,"y":-0.78},{"x":-0.13,"y":-0.79},{"x":-0.16,"y":-0.74},{"x":-0.14,"y":-0.73},{"x":-0.2,"y":-0.7},
{"x":-0.22,"y":-0.67},{"x":-0.17,"y":-0.66},{"x":-0.15,"y":-0.63},{"x":-0.12,"y":-0.66},{"x":-0.2,"y":-0.62},{"x":-0.16,"y":-0.58},{"x":-0.12,"y":-0.56},{"x":-0.22,"y":-0.48},{"x":-0.16,"y":-0.51},{"x":-0.13,"y":-0.44},
{"x":-0.14,"y":-0.35},{"x":-0.16,"y":-0.34},{"x":-0.12,"y":-0.4},{"x":-0.15,"y":-0.27},{"x":-0.13,"y":-0.24},{"x":-0.12,"y":-0.2},{"x":-0.2,"y":-0.08},{"x":-0.15,"y":0.04},{"x":-0.13,"y":0.02},{"x":-0.4,"y":-0.34},
{"x":-0.77,"y":-3.49},{"x":-0.88,"y":-3.03},{"x":-0.66,"y":-2.91},{"x":-0.54,"y":-3.0},{"x":-0.49,"y":-3.0},{"x":-0.49,"y":-2.91},{"x":-0.72,"y":-2.64},{"x":-0.47,"y":-3.2},{"x":-0.37,"y":-2.74},{"x":-0.36,"y":-2.69},
{"x":-0.44,"y":-2.6},{"x":-0.5,"y":-2.56},{"x":-0.46,"y":-2.52},{"x":-0.52,"y":-2.37},{"x":-0.48,"y":-2.32},{"x":-0.33,"y":-2.34},{"x":-1.0,"y":-2.29},{"x":-1.12,"y":-2.18},{"x":-1.18,"y":-2.14},{"x":-0.47,"y":-2.14},
{"x":-0.18,"y":-3.28},{"x":-0.33,"y":-3.37},{"x":-0.46,"y":-3.85},{"x":-0.52,"y":-4.19},{"x":-0.48,"y":-4.25},{"x":-0.51,"y":-3.98},{"x":-0.97,"y":-3.6},{"x":-0.93,"y":-3.66},{"x":-0.96,"y":-3.55},{"x":-0.76,"y":-3.49},
{"x":-0.55,"y":-3.14},{"x":-0.5,"y":-3.0},{"x":0.02,"y":-2.99},{"x":-0.07,"y":-3.31},{"x":-0.07,"y":-3.26},{"x":-0.41,"y":-3.51},{"x":-0.37,"y":-3.69},{"x":-0.17,"y":-3.56},{"x":-0.5,"y":-3.19},
{"x":0.15,"y":-2.9},{"x":0.19,"y":-2.86},{"x":0.2,"y":-2.83},{"x":0.28,"y":-2.83},{"x":0.27,"y":-2.73},{"x":0.28,"y":-2.67},{"x":0.16,"y":-2.67},{"x":0.21,"y":-2.61},{"x":0.32,"y":-2.59},{"x":0.36,"y":-2.55},
{"x":0.37,"y":-2.52},{"x":0.4,"y":-2.49},{"x":0.42,"y":-2.47},{"x":0.28,"y":-2.49},{"x":0.44,"y":-2.77},{"x":0.58,"y":-2.95},{"x":0.73,"y":-2.91},{"x":0.86,"y":-2.85},{"x":0.81,"y":-2.62},{"x":0.85,"y":-2.65},
{"x":0.75,"y":-2.61},{"x":0.88,"y":-2.49},{"x":0.75,"y":-2.41},{"x":0.77,"y":-2.34},{"x":0.81,"y":-2.21},{"x":0.93,"y":-2.38},{"x":0.97,"y":-2.39},{"x":1.1,"y":-2.49},{"x":1.03,"y":-2.31},{"x":1.09,"y":-2.34},
{"x":1.16,"y":-2.32},{"x":1.22,"y":-2.33},{"x":1.13,"y":-2.21},{"x":1.17,"y":-2.14},{"x":1.08,"y":-2.1},{"x":1.04,"y":-2.11},{"x":1.3,"y":-2.15},{"x":1.36,"y":-2.06},{"x":1.45,"y":-2.25},{"x":1.54,"y":-2.52},
{"x":1.55,"y":-2.71},{"x":1.54,"y":-2.02},{"x":0.88,"y":-1.99},{"x":0.93,"y":-1.96},{"x":0.81,"y":-1.96},{"x":0.79,"y":-1.99},{"x":0.86,"y":-1.91},{"x":0.97,"y":-1.89},{"x":1.06,"y":-1.94},{"x":0.91,"y":-1.88},
{"x":1.15,"y":-1.87},{"x":1.2,"y":-1.89},{"x":1.26,"y":-1.87},{"x":1.29,"y":-1.82},{"x":1.33,"y":-1.78},{"x":1.36,"y":-1.76},{"x":1.4,"y":-1.72},{"x":1.43,"y":-1.71},{"x":1.46,"y":-1.67},{"x":1.5,"y":-1.82},
{"x":1.58,"y":-1.71},{"x":1.58,"y":-1.5},{"x":1.61,"y":-1.59},{"x":1.54,"y":-1.62},{"x":1.39,"y":-1.59},{"x":1.77,"y":-1.53},{"x":1.65,"y":-1.43},
{"x":-0.05,"y":-1.35},{"x":0.06,"y":-1.22},{"x":0.08,"y":-1.29},{"x":0.22,"y":-1.34},{"x":0.3,"y":-1.39},{"x":0.4,"y":-1.24},{"x":0.18,"y":-1.89},{"x":-0.01,"y":-1.85},{"x":-0.06,"y":-1.95},{"x":0.17,"y":-1.99},
{"x":0.55,"y":-1.93},{"x":0.61,"y":-1.52},{"x":0.71,"y":-1.67},{"x":0.78,"y":-1.59},
{"x":0.36,"y":-2.55},{"x":0.38,"y":-2.53},{"x":0.4,"y":-2.5},{"x":0.41,"y":-2.47},{"x":0.43,"y":-2.49},{"x":0.44,"y":-2.45},{"x":0.45,"y":-2.46},{"x":0.46,"y":-2.42},{"x":0.47,"y":-2.44},{"x":0.48,"y":-2.41},
{"x":0.43,"y":-2.45},{"x":0.47,"y":-2.44},{"x":0.44,"y":-2.42},{"x":0.49,"y":-2.41},{"x":0.46,"y":-2.4},{"x":0.45,"y":-2.38},{"x":0.5,"y":-2.39},{"x":0.52,"y":-2.37},{"x":0.47,"y":-2.36},{"x":0.48,"y":-2.35},
{"x":0.51,"y":-2.34},{"x":0.54,"y":-2.35},{"x":0.5,"y":-2.32},{"x":0.56,"y":-2.33},{"x":0.49,"y":-2.3},{"x":0.52,"y":-2.31},{"x":0.55,"y":-2.3},{"x":0.58,"y":-2.31},{"x":0.53,"y":-2.28},{"x":0.51,"y":-2.27},
{"x":0.57,"y":-2.28},{"x":0.53,"y":-2.25},{"x":0.55,"y":-2.26},{"x":0.58,"y":-2.25},{"x":0.61,"y":-2.26},{"x":0.56,"y":-2.23},{"x":0.6,"y":-2.22},{"x":0.54,"y":-2.21},{"x":0.63,"y":-2.24},{"x":0.57,"y":-2.19},
{"x":0.59,"y":-2.2},{"x":0.62,"y":-2.19},{"x":0.65,"y":-2.2},{"x":0.6,"y":-2.17},{"x":0.63,"y":-2.16},{"x":0.58,"y":-2.15},{"x":0.66,"y":-2.17},{"x":0.61,"y":-2.13},{"x":0.64,"y":-2.12},{"x":0.67,"y":-2.13},
{"x":0.62,"y":-2.1},{"x":0.66,"y":-2.09},{"x":0.69,"y":-2.11},{"x":0.63,"y":-2.07},{"x":0.67,"y":-2.05},{"x":0.7,"y":-2.04},{"x":0.72,"y":-2.06},{"x":0.68,"y":-2.01},{"x":0.71,"y":-2.0},{"x":0.74,"y":-2.02},
{"x":0.72,"y":-1.97},{"x":0.75,"y":-1.96},{"x":0.77,"y":-1.98},{"x":0.74,"y":-1.93},{"x":0.78,"y":-1.94},{"x":0.8,"y":-1.9},{"x":0.76,"y":-1.89},{"x":0.5,"y":-2.47},{"x":0.55,"y":-2.4},{"x":0.6,"y":-2.36},
{"x":0.44,"y":-2.33},{"x":0.49,"y":-2.24},{"x":0.66,"y":-2.3},{"x":0.7,"y":-2.22},{"x":0.58,"y":-2.08},{"x":0.75,"y":-2.12},{"x":0.65,"y":-2.01},{"x":0.83,"y":-1.93},{"x":0.69,"y":-1.93},{"x":0.39,"y":-2.45},
{"x":1.72,"y":-1.24},{"x":1.61,"y":-1.26},{"x":1.66,"y":-1.22},{"x":1.69,"y":-1.18},{"x":1.58,"y":-1.16},{"x":1.49,"y":-1.18},{"x":1.43,"y":-1.22},{"x":1.4,"y":-1.15},{"x":1.36,"y":-1.07},{"x":1.48,"y":-1.09},
{"x":1.52,"y":-1.01},{"x":1.62,"y":-1.11},{"x":1.79,"y":-1.15},{"x":1.83,"y":-1.03},{"x":1.86,"y":-1.01},{"x":1.92,"y":-1.0},{"x":1.95,"y":-0.96},{"x":1.89,"y":-0.96},{"x":1.78,"y":-0.98},{"x":1.72,"y":-1.05},
{"x":1.99,"y":-0.84},{"x":2.02,"y":-0.79},{"x":2.09,"y":-0.83},{"x":2.15,"y":-0.77},{"x":2.21,"y":-0.81},{"x":2.22,"y":-0.7},{"x":2.12,"y":-0.68},{"x":2.05,"y":-0.62},{"x":1.89,"y":-0.68},{"x":1.94,"y":-0.55},
{"x":1.83,"y":-0.9},{"x":1.64,"y":-1.0},{"x":1.58,"y":-0.92},{"x":1.46,"y":-0.92},{"x":1.4,"y":-1.0},{"x":1.29,"y":-0.96},{"x":1.23,"y":-0.88},{"x":1.32,"y":-0.81},{"x":1.14,"y":-0.68},{"x":1.2,"y":-0.59},
{"x":1.32,"y":-1.0},{"x":1.36,"y":-1.22},{"x":1.32,"y":-1.33},{"x":1.26,"y":-1.37},{"x":1.23,"y":-1.44},{"x":1.14,"y":-1.48},{"x":1.17,"y":-1.56},{"x":1.07,"y":-1.59},{"x":1.12,"y":-1.52},{"x":1.39,"y":-1.4},
{"x":1.43,"y":-1.37},{"x":1.51,"y":-1.33},{"x":1.52,"y":-1.4},{"x":1.58,"y":-1.4},{"x":1.65,"y":-1.37},{"x":1.61,"y":-1.29},{"x":1.76,"y":-1.28},{"x":1.83,"y":-1.24},{"x":1.92,"y":-1.15},{"x":1.88,"y":-1.07},
{"x":1.96,"y":-1.03},{"x":2.04,"y":-0.96},{"x":2.08,"y":-0.92},{"x":1.85,"y":-0.83},{"x":1.75,"y":-0.72},{"x":2.01,"y":-0.7},{"x":1.15,"y":-0.8},{"x":1.18,"y":-0.72},{"x":1.25,"y":-0.65},{"x":1.1,"y":-0.9},
{"x":1.22,"y":-1.05},{"x":1.35,"y":-0.9},{"x":1.28,"y":-0.78},{"x":1.42,"y":-0.85},{"x":1.05,"y":-0.75},{"x":1.12,"y":-1.0},
{"x":1.95,"y":-1.26},{"x":1.88,"y":-1.12},{"x":1.89,"y":-1.01},{"x":1.93,"y":-1.0},{"x":1.98,"y":-0.95},{"x":2.01,"y":-0.94},{"x":1.95,"y":-0.94},{"x":1.97,"y":-0.9},{"x":2.02,"y":-0.83},{"x":2.04,"y":-0.79},
{"x":2.01,"y":-0.74},{"x":2.12,"y":-0.83},{"x":2.09,"y":-0.78},{"x":2.09,"y":-0.74},{"x":2.21,"y":-0.85},{"x":2.2,"y":-0.77},{"x":2.21,"y":-0.73},{"x":2.17,"y":-0.72},{"x":2.24,"y":-0.69},{"x":2.22,"y":-0.68},
{"x":1.91,"y":-0.7},{"x":2.04,"y":-0.67},{"x":2.14,"y":-0.58},{"x":2.09,"y":-0.6},{"x":2.22,"y":-0.62},{"x":2.27,"y":-0.64},{"x":2.3,"y":-0.59},{"x":2.33,"y":-0.59},{"x":2.28,"y":-0.53},{"x":2.33,"y":-0.52},
{"x":2.37,"y":-0.57},{"x":2.04,"y":-0.51},{"x":2.34,"y":-0.45},{"x":2.35,"y":-0.38},{"x":2.4,"y":-0.38},{"x":2.41,"y":-0.37},{"x":2.46,"y":-0.44},{"x":2.49,"y":-0.36},{"x":2.35,"y":-0.32},{"x":2.27,"y":-0.3},
{"x":2.14,"y":-0.36},{"x":1.97,"y":-0.34},{"x":2.09,"y":-0.24},{"x":2.11,"y":-0.25},{"x":2.3,"y":-0.23},{"x":2.31,"y":-0.17},{"x":2.35,"y":-0.17},{"x":2.49,"y":-0.21},{"x":2.53,"y":-0.21},{"x":2.53,"y":-0.17},
{"x":2.5,"y":-0.14},{"x":2.48,"y":-0.12},{"x":2.43,"y":-0.1},{"x":2.18,"y":-0.07},{"x":2.24,"y":-0.03},{"x":2.34,"y":0.0},{"x":2.46,"y":-0.76},{"x":2.35,"y":-0.91},{"x":1.88,"y":-0.6},{"x":1.92,"y":-0.6},
{"x":2.38,"y":0.07},{"x":1.51,"y":-0.35},{"x":1.46,"y":-0.25},{"x":1.53,"y":0.36},{"x":0.79,"y":0.57},{"x":0.96,"y":0.55},{"x":0.92,"y":0.76},{"x":1.1,"y":0.2},{"x":1.25,"y":0.45},{"x":1.4,"y":0.1},
{"x":1.05,"y":0.62},{"x":0.98,"y":0.4},{"x":1.6,"y":0.7},{"x":1.9,"y":0.3},{"x":2.3,"y":0.05},{"x":1.2,"y":-2.8},{"x":0.95,"y":-3.4},{"x":1.8,"y":-2.6},{"x":2.2,"y":-2.1},{"x":0.6,"y":-3.1},
{"x":0.3,"y":-3.3},{"x":0.1,"y":-3.9},{"x":0.4,"y":-4.1},{"x":-0.2,"y":-4.2},{"x":-0.1,"y":-2.6},{"x":0.05,"y":-2.2},{"x":1.7,"y":0.6},{"x":2.1,"y":0.4}
],
"bsssolid":[{"o":1,"x":-0.549,"y":-3.597},{"o":2,"x":-0.054,"y":-1.667},{"o":3,"x":-0.054,"y":-0.385},{"o":4,"x":-0.157,"y":0.03},{"o":5,"x":-0.951,"y":-3.037}],
"bssdash":[{"o":1,"x":-0.951,"y":-3.037},{"o":2,"x":-0.741,"y":-3.77},{"o":3,"x":-0.549,"y":-3.597}],
"segs":[
{"x":0.59,"y":-3.704,"x2":-0.303,"y2":-3.603},{"x":-0.303,"y":-3.603,"x2":-0.135,"y2":-3.663},{"x":-0.303,"y":-3.603,"x2":-0.13,"y2":-3.573},
{"x":0.797,"y":-3.586,"x2":0.599,"y2":-2.301},{"x":0.599,"y":-2.301,"x2":0.594,"y2":-2.521},{"x":0.599,"y":-2.301,"x2":0.666,"y2":-2.506},
{"x":0.299,"y":-1.49,"x2":0.086,"y2":-0.899},{"x":0.086,"y":-0.899,"x2":0.124,"y2":-1.117},{"x":0.086,"y":-0.899,"x2":0.189,"y2":-1.08},
{"x":1.795,"y":-1.798,"x2":1.497,"y2":-1.649},{"x":1.497,"y":-1.649,"x2":1.645,"y2":-1.77},{"x":1.497,"y":-1.649,"x2":1.67,"y2":-1.686},
{"x":2.293,"y":-0.996,"x2":2.495,"y2":-0.101},{"x":2.495,"y":-0.101,"x2":2.414,"y2":-0.297},{"x":2.495,"y":-0.101,"x2":2.48,"y2":-0.321},
{"x":0.405,"y":-0.38,"x2":0.359,"y2":-0.207},{"x":0.359,"y":-0.207,"x2":0.837,"y2":0.309},{"x":0.837,"y":0.309,"x2":0.878,"y2":0.133}],
"labels":[{"t":"HB","x":0.793,"y":-3.698},{"t":"BSS","x":-0.683,"y":-3.094},{"t":"Blends &","x":0.31,"y":-1.706},{"t":"Binaries","x":0.29,"y":-1.544},{"t":"AGB","x":1.976,"y":-1.79},{"t":"RGB Tip","x":2.251,"y":-1.091},{"t":"Multiple","x":1.201,"y":0.207},{"t":"RGBs","x":1.156,"y":0.403}],
"title":[{"t":"NGC2808","x":1.734,"y":-3.793}],
"xtmain":[{"t":"(m","x":0.158,"y":1.287},{"t":"−m","x":0.568,"y":1.287},{"t":")","x":1.048,"y":1.287}],
"xtsub":[{"t":"F275W","x":0.313,"y":1.337},{"t":"F336W","x":0.784,"y":1.337}],
"xtsup":[{"t":"*","x":1.091,"y":1.242}],
"ytmain":[{"t":"m","x":-1.687,"y":-1.494}],
"ytsub":[{"t":"F275W","x":-1.652,"y":-1.667}],
"ytsup":[{"t":"*","x":-1.721,"y":-1.622}]
},
"layer":[
{"data":{"name":"ms"},"mark":{"type":"area","orient":"horizontal","color":"#b4b4b4","clip":true},
 "encoding":{"y":{"field":"y","type":"quantitative","scale":{"domain":[-4.4,0.9],"nice":false,"zero":false,"reverse":true},"axis":{"orient":"left","values":[-4,-3,-2,-1,0],"format":"d","tickSize":18,"offset":-18,"labelPadding":18}},
  "x":{"field":"xa","type":"quantitative","scale":{"domain":[-1.4,2.7],"nice":false,"zero":false},"axis":{"orient":"bottom","values":[-1,0,1,2],"format":"d","tickSize":18,"offset":-18,"labelPadding":12}},
  "x2":{"field":"xb"}}},
{"data":{"name":"sgb"},"mark":{"type":"area","orient":"vertical","color":"#b4b4b4","clip":true},
 "encoding":{"x":{"field":"x","type":"quantitative","scale":{"domain":[-1.4,2.7],"nice":false,"zero":false},"axis":{"orient":"bottom","values":[-1.2,-0.8,-0.6,-0.4,-0.2,0.2,0.4,0.6,0.8,1.2,1.4,1.6,1.8,2.2,2.4,2.6],"tickSize":10,"offset":-10,"labels":false}},
  "y":{"field":"ya","type":"quantitative","scale":{"domain":[-4.4,0.9],"nice":false,"zero":false,"reverse":true},"axis":{"orient":"left","values":[-4.2,-3.8,-3.6,-3.4,-3.2,-2.8,-2.6,-2.4,-2.2,-1.8,-1.6,-1.4,-1.2,-0.8,-0.6,-0.4,-0.2,0.2,0.4,0.6,0.8],"tickSize":10,"offset":-10,"labels":false}},
  "y2":{"field":"yb"}}},
{"data":{"name":"cloud"},"mark":{"type":"circle","size":28,"color":"#b4b4b4","opacity":1,"clip":true},
 "encoding":{"x":{"field":"x","type":"quantitative","scale":{"domain":[-1.4,2.7],"nice":false,"zero":false},"axis":null},
  "y":{"field":"y","type":"quantitative","scale":{"domain":[-4.4,0.9],"nice":false,"zero":false,"reverse":true},"axis":null}}},
{"data":{"name":"sparse"},"mark":{"type":"circle","size":13,"color":"#b0b0b0","opacity":1,"clip":true},
 "encoding":{"x":{"field":"x","type":"quantitative","scale":{"domain":[-1.4,2.7],"nice":false,"zero":false},"axis":null},
  "y":{"field":"y","type":"quantitative","scale":{"domain":[-4.4,0.9],"nice":false,"zero":false,"reverse":true},"axis":null}}},
{"data":{"name":"bsssolid"},"mark":{"type":"line","color":"#0000ff","strokeWidth":2.5},
 "encoding":{"x":{"field":"x","type":"quantitative","scale":{"domain":[-1.4,2.7],"nice":false,"zero":false},"axis":{"orient":"top","values":[-1,0,1,2],"tickSize":18,"offset":-18,"labels":false}},
  "y":{"field":"y","type":"quantitative","scale":{"domain":[-4.4,0.9],"nice":false,"zero":false,"reverse":true},"axis":{"orient":"right","values":[-4,-3,-2,-1,0],"tickSize":18,"offset":-18,"labels":false}},
  "order":{"field":"o","type":"quantitative"}}},
{"data":{"name":"bssdash"},"mark":{"type":"line","color":"#0000ff","strokeWidth":2.5,"strokeDash":[18,9]},
 "encoding":{"x":{"field":"x","type":"quantitative","scale":{"domain":[-1.4,2.7],"nice":false,"zero":false},"axis":{"orient":"top","values":[-1.2,-0.8,-0.6,-0.4,-0.2,0.2,0.4,0.6,0.8,1.2,1.4,1.6,1.8,2.2,2.4,2.6],"tickSize":10,"offset":-10,"labels":false}},
  "y":{"field":"y","type":"quantitative","scale":{"domain":[-4.4,0.9],"nice":false,"zero":false,"reverse":true},"axis":{"orient":"right","values":[-4.2,-3.8,-3.6,-3.4,-3.2,-2.8,-2.6,-2.4,-2.2,-1.8,-1.6,-1.4,-1.2,-0.8,-0.6,-0.4,-0.2,0.2,0.4,0.6,0.8],"tickSize":10,"offset":-10,"labels":false}},
  "order":{"field":"o","type":"quantitative"}}},
{"data":{"name":"segs"},"mark":{"type":"rule","color":"black","strokeWidth":2},
 "encoding":{"x":{"field":"x","type":"quantitative","scale":{"domain":[-1.4,2.7],"nice":false,"zero":false},"axis":null},
  "y":{"field":"y","type":"quantitative","scale":{"domain":[-4.4,0.9],"nice":false,"zero":false,"reverse":true},"axis":null},
  "x2":{"field":"x2"},"y2":{"field":"y2"}}},
{"data":{"name":"labels"},"mark":{"type":"text","font":"DejaVu Serif","fontSize":26,"color":"black","align":"center","baseline":"alphabetic"},
 "encoding":{"x":{"field":"x","type":"quantitative","axis":null},"y":{"field":"y","type":"quantitative","axis":null},"text":{"field":"t"}}},
{"data":{"name":"title"},"mark":{"type":"text","font":"DejaVu Serif","fontSize":40,"color":"black","align":"center","baseline":"alphabetic"},
 "encoding":{"x":{"field":"x","type":"quantitative","axis":null},"y":{"field":"y","type":"quantitative","axis":null},"text":{"field":"t"}}},
{"data":{"name":"xtmain"},"mark":{"type":"text","font":"DejaVu Serif","fontSize":26,"color":"black","align":"left","baseline":"alphabetic"},
 "encoding":{"x":{"field":"x","type":"quantitative","axis":null},"y":{"field":"y","type":"quantitative","axis":null},"text":{"field":"t"}}},
{"data":{"name":"xtsub"},"mark":{"type":"text","font":"Liberation Serif","fontWeight":"bold","fontSize":19,"color":"black","align":"left","baseline":"alphabetic"},
 "encoding":{"x":{"field":"x","type":"quantitative","axis":null},"y":{"field":"y","type":"quantitative","axis":null},"text":{"field":"t"}}},
{"data":{"name":"xtsup"},"mark":{"type":"text","font":"DejaVu Serif","fontSize":18,"color":"black","align":"left","baseline":"alphabetic"},
 "encoding":{"x":{"field":"x","type":"quantitative","axis":null},"y":{"field":"y","type":"quantitative","axis":null},"text":{"field":"t"}}},
{"data":{"name":"ytmain"},"mark":{"type":"text","font":"DejaVu Serif","fontSize":26,"color":"black","align":"left","baseline":"alphabetic","angle":270},
 "encoding":{"x":{"field":"x","type":"quantitative","axis":null},"y":{"field":"y","type":"quantitative","axis":null},"text":{"field":"t"}}},
{"data":{"name":"ytsub"},"mark":{"type":"text","font":"Liberation Serif","fontWeight":"bold","fontSize":19,"color":"black","align":"left","baseline":"alphabetic","angle":270},
 "encoding":{"x":{"field":"x","type":"quantitative","axis":null},"y":{"field":"y","type":"quantitative","axis":null},"text":{"field":"t"}}},
{"data":{"name":"ytsup"},"mark":{"type":"text","font":"DejaVu Serif","fontSize":18,"color":"black","align":"left","baseline":"alphabetic","angle":270},
 "encoding":{"x":{"field":"x","type":"quantitative","axis":null},"y":{"field":"y","type":"quantitative","axis":null},"text":{"field":"t"}}}
]
}
